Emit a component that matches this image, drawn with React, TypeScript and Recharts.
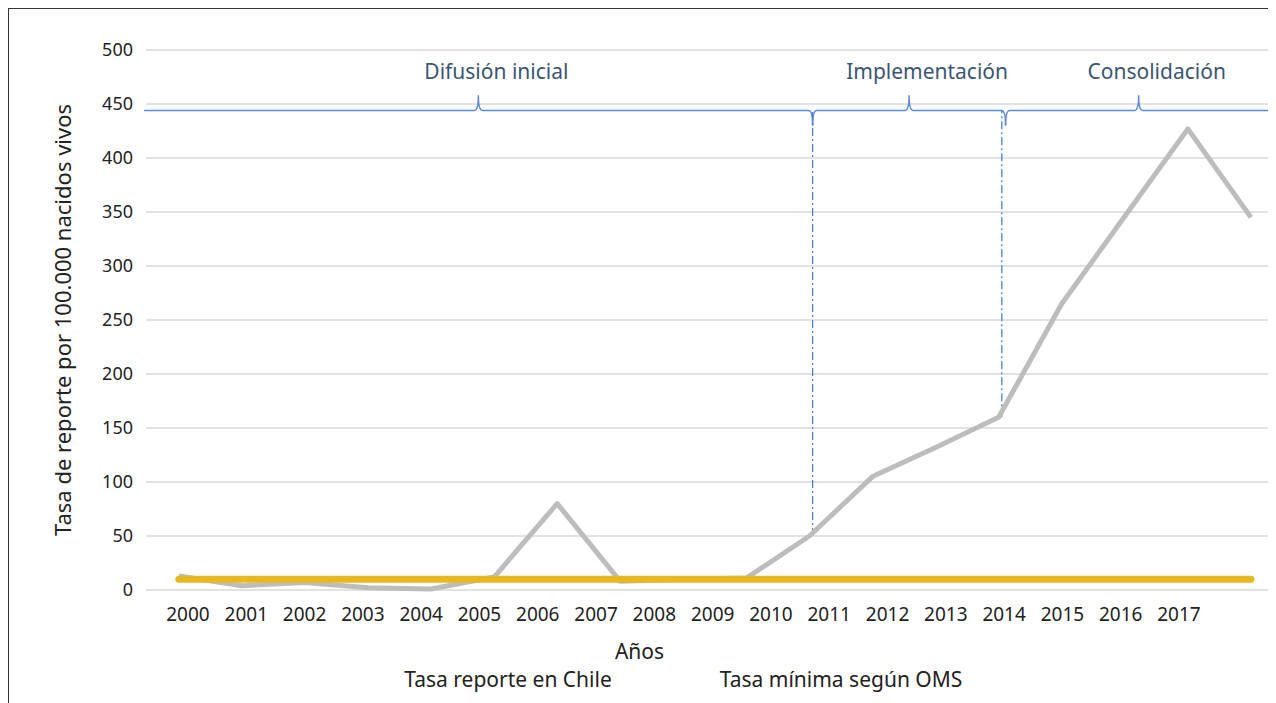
// Tasa de reporte por 100.000 nacidos vivos, Chile 2000-2017
import {
  LineChart, Line, XAxis, YAxis, CartesianGrid, Legend, ReferenceArea, ReferenceLine,
} from 'recharts';

const years = [2000, 2001, 2002, 2003, 2004, 2005, 2006, 2007, 2008, 2009, 2010, 2011, 2012, 2013, 2014, 2015, 2016, 2017];
const tasaChile = [13, 4, 7, 2, 1, 12, 80, 8, 10, 11, 50, 105, 132, 160, 265, 346, 427, 345];
const tasaOMS = [10, 10, 10, 10, 10, 10, 10, 10, 10, 10, 10, 10, 10, 10, 10, 10, 10, 10];
const yTicks = [0, 50, 100, 150, 200, 250, 300, 350, 400, 450, 500];

// phase braces (year boundaries) and the rate where each brace sits
const phaseNames = ['Difusión inicial', 'Implementación', 'Consolidación'];
const phaseStart = [1999.45, 2010.05, 2013.11];
const phaseEnd = [2010.05, 2013.11, 2017.33];
const braceLow = 430;
const braceHigh = 458;
const braceLevel = 444;
// dash-dot markers: from the Chile rate at the boundary up to the brace
const markerYears = [2010, 2013];
const markerX = [2010.05, 2013.05];

const data = years.map((y, i) => ({ year: y, chile: tasaChile[i], oms: tasaOMS[i] }));

const FONT = '"Noto Sans", sans-serif';
const BRACE = '#5b8ad6';

// eslint-disable-next-line @typescript-eslint/no-explicit-any
const braceShape = (name: string, first: boolean) => (props: any) => {
  const { x, y, width, height } = props;
  const mid = y + height / 2;
  const cx = x + width / 2;
  const r = 4;
  const start = first ? `M ${x} ${mid}` : `M ${x} ${y + height} Q ${x} ${mid} ${x + r} ${mid}`;
  const d = [
    start,
    `L ${cx - r} ${mid}`,
    `Q ${cx} ${mid} ${cx} ${y}`,
    `Q ${cx} ${mid} ${cx + r} ${mid}`,
    `L ${x + width - r} ${mid}`,
    `Q ${x + width} ${mid} ${x + width} ${y + height}`,
  ].join(' ');
  return (
    <g>
      <path d={d} fill="none" stroke={BRACE} strokeWidth={1.5} />
      <text x={cx + 18} y={y - 16} textAnchor="middle" fontSize={21} fill="#3b5673" fontFamily={FONT}>
        {name}
      </text>
    </g>
  );
};

const renderLegend = () => (
  <div style={{ position: 'relative', height: 30, fontFamily: FONT, fontSize: 21, color: '#222' }}>
    <span style={{ position: 'absolute', left: 499, top: 0, transform: 'translateX(-50%)', whiteSpace: 'nowrap' }}>
      Tasa reporte en Chile
    </span>
    <span style={{ position: 'absolute', left: 832, top: 0, transform: 'translateX(-50%)', whiteSpace: 'nowrap' }}>
      Tasa mínima según OMS
    </span>
  </div>
);

export default function App() {
  return (
    <div style={{ width: 1268, height: 695, borderTop: '1.5px solid #333', borderLeft: '1.5px solid #333', fontFamily: FONT }}>
      <LineChart width={1266} height={693} data={data} margin={{ top: 41, right: 2, bottom: 7, left: 0 }}>
        <CartesianGrid vertical={false} stroke="#e2e2e2" strokeWidth={2} />
        <XAxis
          xAxisId="d"
          dataKey="year"
          type="number"
          domain={[1999.48, 2017.35]}
          allowDataOverflow
          height={0}
          hide
        />
        <XAxis
          xAxisId="lbl"
          dataKey="year"
          type="category"
          padding={{ left: 42, right: 94 }}
          axisLine={false}
          tickLine={false}
          tickSize={0}
          tickMargin={18}
          height={75}
          tick={{ fontSize: 19, fill: '#222', fontFamily: FONT }}
          label={{ value: 'Años', position: 'insideBottom', offset: 6, dx: -70, style: { fontSize: 21, fill: '#222', fontFamily: FONT } }}
        />
        <YAxis
          domain={[0, 500]}
          ticks={yTicks}
          width={137}
          axisLine={false}
          tickLine={false}
          tickSize={0}
          tickMargin={13}
          tick={{ fontSize: 18, fill: '#222', fontFamily: FONT }}
          label={{ value: 'Tasa de reporte por 100.000 nacidos vivos', angle: -90, position: 'center', dx: -14, style: { fontSize: 22, fill: '#222', fontFamily: FONT, textAnchor: 'middle' } }}
        />
        <Legend verticalAlign="bottom" height={30} content={renderLegend} />
        {phaseNames.map((name, i) => (
          <ReferenceArea
            key={name}
            xAxisId="d"
            x1={phaseStart[i]}
            x2={phaseEnd[i]}
            y1={braceLow}
            y2={braceHigh}
            ifOverflow="visible"
            shape={braceShape(name, i === 0)}
          />
        ))}
        {markerYears.map((yr, i) => (
          <ReferenceLine
            key={yr}
            xAxisId="d"
            segment={[{ x: markerX[i], y: tasaChile[years.indexOf(yr)] }, { x: markerX[i], y: braceLevel }]}
            stroke="#4a7fd4"
            strokeWidth={1.3}
            strokeDasharray="8 3 2 3"
            ifOverflow="visible"
          />
        ))}
        <Line
          xAxisId="d"
          type="linear"
          dataKey="chile"
          stroke="#bdbdbd"
          strokeWidth={5}
          strokeLinejoin="round"
          dot={false}
          isAnimationActive={false}
          name="Tasa reporte en Chile"
        />
        <Line
          xAxisId="d"
          type="linear"
          dataKey="oms"
          stroke="#e6b91e"
          strokeWidth={7}
          strokeLinecap="round"
          dot={false}
          isAnimationActive={false}
          name="Tasa mínima según OMS"
        />
      </LineChart>
    </div>
  );
}
